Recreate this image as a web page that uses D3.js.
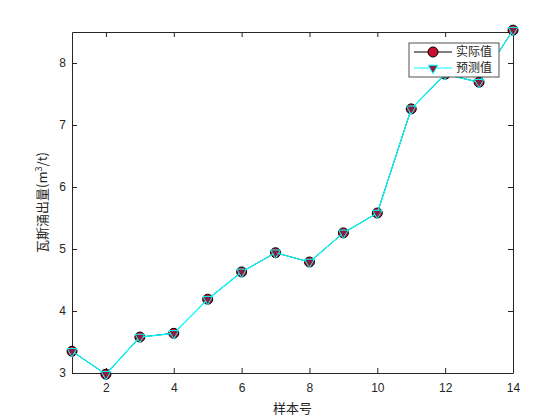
<!DOCTYPE html>
<html>
<head>
<meta charset="utf-8">
<script src="https://cdn.jsdelivr.net/npm/d3@7"></script>
<style>
  body { margin: 0; background: #fff; }
  svg { display: block; }
  .axis text { font-family: "Liberation Sans", Arial, sans-serif; font-size: 12px; fill: #262626; }
  .axis path, .axis line { stroke: #262626; }
</style>
</head>
<body>
<svg id="chart" width="560" height="420"></svg>
<script>
// sample numbers
const samples = [1, 2, 3, 4, 5, 6, 7, 8, 9, 10, 11, 12, 13, 14];
// measured values
const actual = [3.35, 2.98, 3.58, 3.64, 4.19, 4.63, 4.94, 4.79, 5.26, 5.58, 7.26, 7.82, 7.69, 8.53];
// predicted values
const predicted = [3.35, 2.98, 3.58, 3.64, 4.19, 4.63, 4.94, 4.79, 5.26, 5.58, 7.26, 7.82, 7.69, 8.53];
const xTicks = [2, 4, 6, 8, 10, 12, 14];
const yTicks = [3, 4, 5, 6, 7, 8];
const legendLabels = ['实际值', '预测值'];

const margin = { top: 32, right: 47, bottom: 47, left: 72 };
const W = 560 - margin.left - margin.right;
const H = 420 - margin.top - margin.bottom;

const svg = d3.select('#chart');
const g = svg.append('g').attr('transform', `translate(${margin.left},${margin.top})`);

const x = d3.scaleLinear().domain([1, 14]).range([0, W]);
const y = d3.scaleLinear().domain([3, 8.5]).range([H, 0]);

// axes with inward ticks on all four sides (box on)
g.append('g').attr('class', 'axis')
  .attr('transform', `translate(0,${H})`)
  .call(d3.axisBottom(x).tickValues(xTicks).tickFormat(d3.format('d'))
    .tickSizeInner(-5).tickSizeOuter(0).tickPadding(10));
g.append('g').attr('class', 'axis')
  .call(d3.axisLeft(y).tickValues(yTicks).tickFormat(d3.format('d'))
    .tickSizeInner(-5).tickSizeOuter(0).tickPadding(6));
g.append('g').attr('class', 'axis')
  .call(d3.axisTop(x).tickValues(xTicks).tickSizeInner(-5).tickSizeOuter(0).tickFormat(''));
g.append('g').attr('class', 'axis')
  .attr('transform', `translate(${W},0)`)
  .call(d3.axisRight(y).tickValues(yTicks).tickSizeInner(-5).tickSizeOuter(0).tickFormat(''));

// actual series
const actData = samples.map((s, i) => ({ s, v: actual[i] }));
const preData = samples.map((s, i) => ({ s, v: predicted[i] }));
const line = d3.line().x(d => x(d.s)).y(d => y(d.v));

g.append('path').datum(actData)
  .attr('fill', 'none').attr('stroke', '#000').attr('stroke-width', 1)
  .attr('d', line);
g.selectAll('.act').data(actData).enter().append('circle')
  .attr('cx', d => x(d.s)).attr('cy', d => y(d.v)).attr('r', 5)
  .attr('fill', '#c8102e').attr('stroke', '#000').attr('stroke-width', 1);

// predicted series
g.append('path').datum(preData)
  .attr('fill', 'none').attr('stroke', '#00ffff').attr('stroke-width', 1.2)
  .attr('d', line);
const tri = d3.symbol().type(d3.symbolTriangle).size(40);
g.selectAll('.pre').data(preData).enter().append('path')
  .attr('d', tri)
  .attr('transform', d => `translate(${x(d.s)},${y(d.v)}) rotate(180)`)
  .attr('fill', '#8b1e3f').attr('stroke', '#00ffff').attr('stroke-width', 1);

// legend
const lg = svg.append('g').attr('transform', 'translate(409,43)');
lg.append('rect').attr('width', 90).attr('height', 34)
  .attr('fill', '#fff').attr('stroke', '#262626').attr('stroke-width', 0.8);
lg.append('line').attr('x1', 5).attr('x2', 43).attr('y1', 9).attr('y2', 9).attr('stroke', '#000');
lg.append('circle').attr('cx', 24).attr('cy', 9).attr('r', 5)
  .attr('fill', '#c8102e').attr('stroke', '#000');
lg.append('line').attr('x1', 5).attr('x2', 43).attr('y1', 25).attr('y2', 25).attr('stroke', '#00ffff');
lg.append('path').attr('d', tri).attr('transform', 'translate(24,25) rotate(180)')
  .attr('fill', '#8b1e3f').attr('stroke', '#00ffff');
lg.selectAll('.lt').data(legendLabels).enter().append('text')
  .attr('x', 47).attr('y', (d, i) => 9 + i * 16)
  .attr('dy', '0.35em')
  .attr('font-family', '"Noto Sans CJK SC", sans-serif').attr('font-size', 12)
  .attr('fill', '#262626')
  .text(d => d);

// axis titles
svg.append('text')
  .attr('x', margin.left + W / 2).attr('y', 413)
  .attr('text-anchor', 'middle')
  .attr('font-family', '"Noto Sans CJK SC", sans-serif').attr('font-size', 13)
  .attr('fill', '#262626')
  .text('样本号');

const yl = svg.append('text')
  .attr('transform', `translate(47,${margin.top + H / 2}) rotate(-90)`)
  .attr('text-anchor', 'middle')
  .attr('font-family', '"Noto Sans CJK SC", sans-serif').attr('font-size', 13)
  .attr('fill', '#262626');
yl.append('tspan').text('瓦斯涌出量(m');
yl.append('tspan').attr('dy', -5).attr('font-size', 9).text('3');
yl.append('tspan').attr('dy', 5).text('/t)');
</script>
</body>
</html>
